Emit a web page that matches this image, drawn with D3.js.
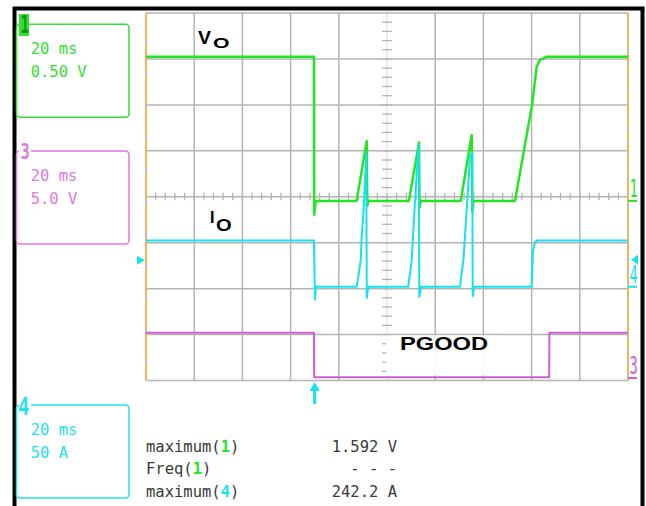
<!DOCTYPE html>
<html>
<head>
<meta charset="utf-8">
<script src="https://cdn.jsdelivr.net/npm/d3@7"></script>
<style>
  body { margin: 0; background: #fff; }
  svg { display: block; }
</style>
</head>
<body>
<svg id="scope" width="646" height="506"></svg>
<script>
// ---- acquisition settings -------------------------------------------------
// time axis in ms, relative to the trigger point
const timeWindow = [-70, 130];
const timePerDiv = 20;
const divsX = 10, divsY = 8;

// vertical settings per channel (units per division, ground position in divisions from centre)
const ch1PerDiv = 0.5, ch1Ground = -0.09;   // V
const ch3PerDiv = 5.0, ch3Ground = -3.945;  // V
const ch4PerDiv = 50,  ch4Ground = -1.96;   // A
const ch4TriggerLevel = 29;                 // A

// ---- channel 1: output voltage Vo (V) --------------------------------------
const voTime  = [-70, -0.3, -0.2, 0.4, 17.4, 21.6, 21.8, 22.3, 39.1, 43.3, 43.5, 44.0,
                 60.6, 65.15, 65.4, 65.9, 83.1, 90.2, 92.1, 93.5, 96.3, 130];
const voValue = [1.57, 1.57, -0.15, 0, 0, 0.653, -0.054, 0, 0, 0.635, -0.076, 0,
                 0, 0.718, -0.116, 0, 0, 1.045, 1.46, 1.535, 1.57, 1.57];

// ---- channel 4: output current Io (A) --------------------------------------
const ioTime  = [-70, -0.3, 0.1, 0.5,
                 17.4, 18.1, 19.1, 19.5, 20.2, 20.9, 21.4, 21.6, 22.2,
                 38.8, 40.25, 41.2, 42.0, 42.6, 43.2, 43.4, 44.1,
                 60.3, 61.7, 62.8, 63.7, 64.4, 65.4, 65.56, 66.2,
                 90.0, 90.6, 91.4, 92.2, 130];
const ioValue = [50.4, 50.4, -14, 0,
                 0, 11, 29, 55, 80, 116, 146, -12, 0,
                 0, 29, 73, 109, 135, 154, -11, 0,
                 0, 29, 73, 109, 142, 146, -10, 0,
                 0, 40, 48.4, 50.4, 50.4];

// ---- channel 3: PGOOD (V) ----------------------------------------------------
const pgTime  = [-70, -0.3, -0.2, 97.3, 97.4, 130];
const pgValue = [4.92, 4.92, 0.09, 0.09, 4.92, 4.92];

// ---- readouts ----------------------------------------------------------------
const measureNames  = ["maximum", "Freq", "maximum"];
const measureChans  = ["1", "1", "4"];
const measureValues = ["1.592 V", "- - -", "242.2 A"];

const boxChannels = ["1", "3", "4"];
const boxTimebase = ["20 ms", "20 ms", "20 ms"];
const boxScale    = ["0.50 V", "5.0 V", "50 A"];

// ---- colours ------------------------------------------------------------------
const colCh1 = "#22e622", colCh3 = "#cf5fcf", colCh4 = "#14e2ee";
const colBox1 = "#33e033", colBox3 = "#dd7add", colBox4 = "#22e2ee";
const colGrid = "#b4b4b4", colEdge = "#ffb347";

const svg = d3.select("#scope");

// outer frame
svg.append("rect").attr("x", 0).attr("y", 0).attr("width", 646).attr("height", 506).attr("fill", "#fff");
svg.append("path").attr("d", "M14.5,506 V8.5 H642.5 V506")
  .attr("fill", "none").attr("stroke", "#000").attr("stroke-width", 4);

// ---- scales -------------------------------------------------------------------
const plot = { left: 146, right: 628, top: 13, bottom: 380.5 };
const x = d3.scaleLinear().domain(timeWindow).range([plot.left, plot.right]);
const yDiv = d3.scaleLinear().domain([-divsY / 2, divsY / 2]).range([plot.bottom, plot.top]);
const yCh1 = v => yDiv(ch1Ground + v / ch1PerDiv);
const yCh3 = v => yDiv(ch3Ground + v / ch3PerDiv);
const yCh4 = v => yDiv(ch4Ground + v / ch4PerDiv);

// ---- graticule ------------------------------------------------------------------
const grid = svg.append("g");
const xMajor = d3.range(0, divsX + 1).map(i => timeWindow[0] + i * timePerDiv);
const yMajor = d3.range(-divsY / 2, divsY / 2 + 1);

grid.selectAll("line.v").data(xMajor.slice(1, -1)).join("line")
  .attr("x1", d => x(d)).attr("x2", d => x(d))
  .attr("y1", plot.top).attr("y2", plot.bottom)
  .attr("stroke", colGrid).attr("stroke-width", 1.5)
  .attr("opacity", (d, i) => i === 4 ? 0.35 : 1);
grid.selectAll("line.h").data(yMajor).join("line")
  .attr("x1", plot.left).attr("x2", plot.right)
  .attr("y1", d => yDiv(d)).attr("y2", d => yDiv(d))
  .attr("stroke", colGrid).attr("stroke-width", 1.5);

// minor ticks along the centre axes
const xMinor = d3.range(1, divsX * 5).map(i => timeWindow[0] + i * timePerDiv / 5);
const yMinor = d3.range(1, divsY * 5).map(i => -divsY / 2 + i / 5);
const xc = x((timeWindow[0] + timeWindow[1]) / 2), yc = yDiv(0);
grid.selectAll("line.tx").data(xMinor).join("line")
  .attr("x1", d => x(d)).attr("x2", d => x(d))
  .attr("y1", yc - 4).attr("y2", yc + 3.5)
  .attr("stroke", colGrid).attr("stroke-width", 1.3);
grid.selectAll("line.ty").data(yMinor).join("line")
  .attr("x1", xc - 5).attr("x2", xc + 5)
  .attr("y1", d => yDiv(d)).attr("y2", d => yDiv(d))
  .attr("stroke", colGrid).attr("stroke-width", 1.3);

// left and right edges of the graticule
[plot.left, plot.right].forEach((ex, i) => {
  grid.append("line").attr("x1", ex).attr("x2", ex).attr("y1", plot.top).attr("y2", plot.bottom)
    .attr("stroke", colGrid).attr("stroke-width", 1.8);
  grid.append("line").attr("x1", ex).attr("x2", ex).attr("y1", plot.top).attr("y2", plot.bottom)
    .attr("stroke", colEdge).attr("stroke-width", 1.8)
    .attr("stroke-dasharray", i === 0 ? "28,4" : "10,3");
});

// ---- traces -------------------------------------------------------------------
function trace(times, values, yFn, colour, width) {
  const pts = times.map((t, i) => [t, values[i]]);
  svg.append("path").datum(pts)
    .attr("fill", "none").attr("stroke", colour).attr("stroke-width", width)
    .attr("stroke-linejoin", "round")
    .attr("d", d3.line().x(d => x(d[0])).y(d => yFn(d[1])));
}
trace(pgTime, pgValue, yCh3, colCh3, 2);
trace(voTime, voValue, yCh1, colCh1, 2.5);
trace(ioTime, ioValue, yCh4, colCh4, 2);

// ---- annotations ----------------------------------------------------------------
const bold = "'Liberation Sans', Arial, sans-serif";
function label(txt, lx, ly, size, len) {
  svg.append("text").attr("x", lx).attr("y", ly).text(txt)
    .attr("font-family", bold).attr("font-weight", "bold").attr("font-size", size)
    .attr("fill", "#000").attr("textLength", len).attr("lengthAdjust", "spacingAndGlyphs");
}
label("V", 198, 43.5, 17.5, 13);
label("O", 213, 48.3, 15.5, 16.5);
label("I", 210, 223.3, 16.5, 4.5);
label("O", 216, 230.7, 17, 15.7);

svg.append("rect").attr("x", 386).attr("y", 335.5).attr("width", 112).attr("height", 40)
  .attr("fill", "#fff").attr("opacity", 0.92);
label("PGOOD", 400, 350, 18.6, 88);

// trigger position marker (time) and trigger level marker (ch4)
svg.append("path")
  .attr("d", `M${x(0)},382 l-5,9 h3.5 v13 h3 v-13 h3.5 z`)
  .attr("fill", colCh4);
svg.append("path")
  .attr("d", `M${plot.left - 1},${yCh4(ch4TriggerLevel)} l-8,-4.5 v9 z`)
  .attr("fill", colCh4);

// channel ground markers on the right edge
const mono = "'DejaVu Sans Mono', monospace";
function groundMarker(txt, gy, colour, arrow) {
  svg.append("line").attr("x1", plot.right).attr("x2", plot.right + 9)
    .attr("y1", gy).attr("y2", gy).attr("stroke", colour).attr("stroke-width", 2);
  svg.append("text").attr("transform", `translate(629.5,${gy - 4}) scale(0.55,1)`)
    .attr("font-family", mono).attr("font-size", 25).attr("fill", colour).text(txt);
  if (arrow) {
    svg.append("path").attr("d", `M631,${gy - 27} l7,-5 v10 z`).attr("fill", colour);
  }
}
groundMarker("1", yCh1(0), colCh1, false);
groundMarker("4", yCh4(0), colCh4, true);
groundMarker("3", yCh3(0), colCh3, false);

// ---- channel setting boxes -------------------------------------------------------
const boxTop = [24.3, 151, 405];
const boxCol = [colBox1, colBox3, colBox4];
boxChannels.forEach((ch, i) => {
  const g = svg.append("g");
  g.append("rect").attr("x", 16.5).attr("y", boxTop[i]).attr("width", 112.5).attr("height", 93)
    .attr("rx", 3.5).attr("fill", "none").attr("stroke", boxCol[i]).attr("stroke-width", 1.5);
  if (i === 0) {
    g.append("rect").attr("x", 19).attr("y", 14).attr("width", 10).attr("height", 22).attr("fill", boxCol[i]);
    g.append("text").attr("transform", "translate(20.5,33) scale(0.6,1)")
      .attr("font-family", mono).attr("font-weight", "bold").attr("font-size", 24)
      .attr("fill", "#089a08").text(ch);
  } else {
    const digitTop = i === 1 ? 143 : 397;
    g.append("rect").attr("x", 19).attr("y", digitTop - 1).attr("width", 12).attr("height", 20).attr("fill", "#fff");
    g.append("text").attr("transform", `translate(${i === 1 ? 20.5 : 18},${digitTop + (i === 1 ? 16 : 18)}) scale(${i === 1 ? 0.7 : 0.78},1)`)
      .attr("font-family", mono).attr("font-weight", "bold").attr("font-size", i === 1 ? 22 : 24)
      .attr("fill", boxCol[i]).text(ch);
  }
  g.append("text").attr("x", 30.7).attr("y", boxTop[i] + 30).text(boxTimebase[i])
    .attr("font-family", mono).attr("font-size", 15.5).attr("fill", boxCol[i]);
  g.append("text").attr("x", 30.7).attr("y", boxTop[i] + 52.7).text(boxScale[i])
    .attr("font-family", mono).attr("font-size", 15.5).attr("fill", boxCol[i]);
});

// ---- measurement readouts ------------------------------------------------------------
const chanColour = { "1": colCh1, "3": colCh3, "4": colCh4 };
measureNames.forEach((name, i) => {
  const yy = 452 + i * 22.3;
  const t = svg.append("text").attr("x", 146).attr("y", yy)
    .attr("font-family", mono).attr("font-size", 15.5).attr("fill", "#3a3a3a");
  t.append("tspan").text(name + "(");
  t.append("tspan").text(measureChans[i]).attr("fill", chanColour[measureChans[i]]).attr("font-weight", "bold");
  t.append("tspan").text(")");
  svg.append("text").attr("x", 397).attr("y", yy).attr("text-anchor", "end")
    .attr("font-family", mono).attr("font-size", 15.5).attr("fill", "#3a3a3a")
    .text(measureValues[i]);
});
</script>
</body>
</html>
